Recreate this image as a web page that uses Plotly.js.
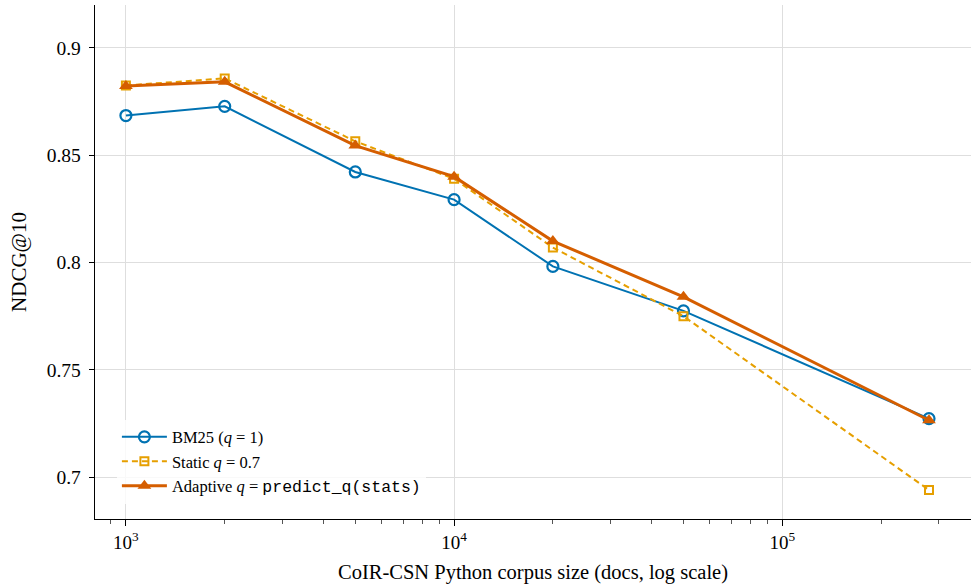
<!DOCTYPE html>
<html>
<head>
<meta charset="utf-8">
<script src="https://cdn.plot.ly/plotly-3.0.1.min.js"></script>
<style>body{margin:0;padding:0;background:#fff;}#chart{width:971px;height:586px;}</style>
</head>
<body>
<div id="chart"></div>
<script>
const corpusSizes = [1000, 2000, 5000, 10000, 20000, 50000, 280000];
const bm25 = [0.8685, 0.8728, 0.8422, 0.8293, 0.7982, 0.7775, 0.7273];
const staticQ = [0.8825, 0.8858, 0.8565, 0.8390, 0.8070, 0.7750, 0.6940];
const adaptiveQ = [0.8822, 0.8842, 0.8545, 0.8400, 0.8100, 0.7840, 0.7265];
const seriesNames = [
  "BM25 (<i>q</i>\u2005=\u20051)",
  "Static <i>q</i>\u2005=\u20050.7",
  "Adaptive <i>q</i>\u2005=\u2005<span style=\"font-family:'Liberation Mono',monospace\">predict_q(stats)</span>"
];
const xTickVals = [1000, 10000, 100000];
const xTickText = ["10<sup>3</sup>", "10<sup>4</sup>", "10<sup>5</sup>"];
const yTickVals = [0.7, 0.75, 0.8, 0.85, 0.9];
const yTickText = ["0.7", "0.75", "0.8", "0.85", "0.9"];

const font = "Liberation Serif, DejaVu Serif, serif";

const traces = [
  {x: corpusSizes, y: bm25, name: seriesNames[0], mode: "lines+markers",
   line: {color: "#0072B2", width: 2},
   marker: {symbol: "circle-open", size: 11, color: "#0072B2", line: {width: 2.2, color: "#0072B2"}}},
  {x: corpusSizes, y: staticQ, name: seriesNames[1], mode: "lines+markers",
   line: {color: "#E69F00", width: 2, dash: "6px,4px"},
   marker: {symbol: "square-open", size: 8, color: "#E69F00", line: {width: 2, color: "#E69F00"}}},
  {x: corpusSizes, y: adaptiveQ, name: seriesNames[2], mode: "lines+markers",
   line: {color: "#D55E00", width: 3},
   marker: {symbol: "triangle-up", size: 12, color: "#D55E00", line: {width: 0}}}
];

const layout = {
  width: 971, height: 586,
  margin: {l: 95, r: 0, t: 5, b: 67},
  paper_bgcolor: "#fff", plot_bgcolor: "#fff",
  font: {family: font, color: "#000", size: 16},
  showlegend: true,
  legend: {x: 0.025, y: 0.03, xanchor: "left", yanchor: "bottom",
           bgcolor: "rgba(255,255,255,0.8)", font: {size: 16.5, family: font},
           tracegroupgap: 0, itemwidth: 45},
  xaxis: {
    type: "log",
    range: [Math.log10(805), Math.log10(376000)],
    tickvals: xTickVals, ticktext: xTickText,
    ticks: "outside", ticklen: 6, tickcolor: "#000",
    showgrid: true, gridcolor: "#dedede", gridwidth: 1,
    showline: true, linecolor: "#000", linewidth: 1.3,
    zeroline: false,
    tickfont: {size: 19, family: font},
    minor: {ticks: "outside", ticklen: 4, tickcolor: "#555", showgrid: false, dtick: "D1"},
    title: {text: "CoIR-CSN Python corpus size (docs, log scale)", font: {size: 20.5, family: font}, standoff: 12}
  },
  yaxis: {
    range: [0.6805, 0.9200],
    tickvals: yTickVals, ticktext: yTickText,
    ticks: "outside", ticklen: 5, tickcolor: "#000",
    ticklabelstandoff: 4,
    showgrid: true, gridcolor: "#dedede", gridwidth: 1,
    showline: true, linecolor: "#000", linewidth: 1.3,
    zeroline: false,
    tickfont: {size: 19.5, family: font},
    title: {text: "NDCG@10", font: {size: 21, family: font}, standoff: 14}
  }
};

Plotly.newPlot("chart", traces, layout, {displayModeBar: false, staticPlot: true});
</script>
</body>
</html>
